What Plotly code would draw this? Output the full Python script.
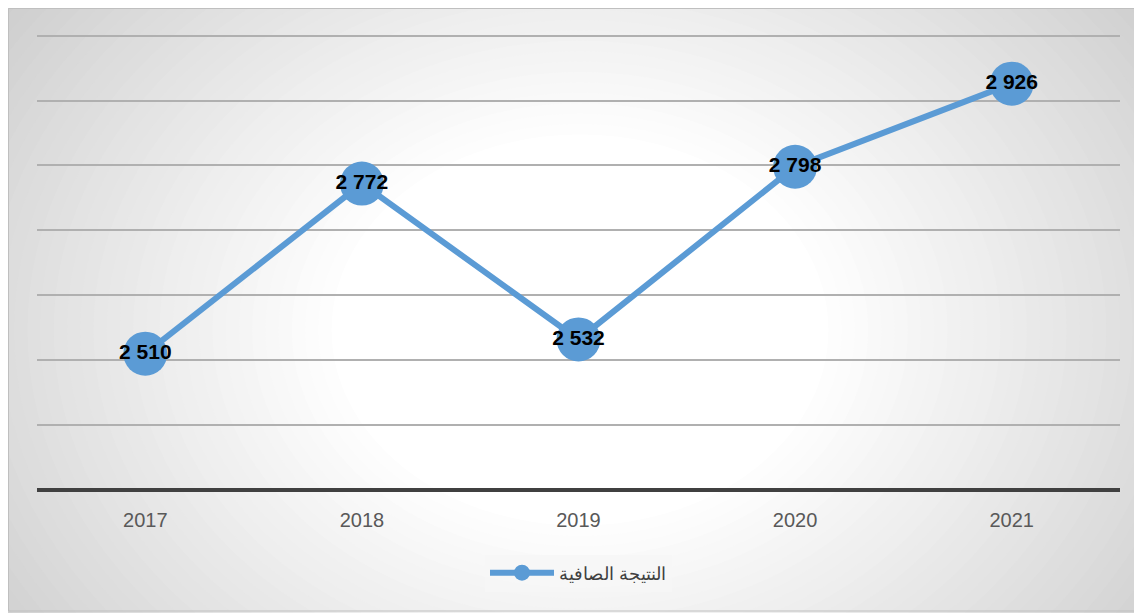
import plotly.graph_objects as go

years = ["2017", "2018", "2019", "2020", "2021"]
net_result = [2510, 2772, 2532, 2798, 2926]
value_labels = ["2 510", "2 772", "2 532", "2 798", "2 926"]
series_name = "النتيجة الصافية"
y_ticks = [2300, 2400, 2500, 2600, 2700, 2800, 2900, 3000]

# page has an 8px body margin, so the figure is shifted
OFF = 8
W, H = 1142 - OFF, 613 - OFF
plot_left, plot_right, plot_top, plot_bottom = 37, 1120, 33, 490
ml = plot_left - OFF
mt = plot_top - OFF
mr = W + OFF - plot_right
mb = H + OFF - plot_bottom
pw = W - ml - mr
ph = H - mt - mb


def radial_background():
    # concentric ellipses, grey at edges -> white in the middle
    shapes = []
    n = 40
    cx_px, cy_px = 580, 330
    x_anchor = (cx_px - plot_left) / pw
    y_anchor = 1 - (cy_px - plot_top) / ph
    r_out, r_in = 720, 230
    for i in range(n + 1):
        t = i / n
        r = r_out - (r_out - r_in) * t
        g = int(198 + (255 - 198) * t ** 0.9)
        shapes.append(dict(
            type="circle", layer="below", xref="paper", yref="paper",
            xsizemode="pixel", ysizemode="pixel",
            xanchor=x_anchor, yanchor=y_anchor,
            x0=-r * 1.08, x1=r * 1.08, y0=-r * 0.85, y1=r * 0.85,
            fillcolor=f"rgb({g},{g},{g})", line=dict(width=0),
        ))
    return shapes


fig = go.Figure()
fig.add_trace(go.Scatter(
    x=years, y=net_result, name=series_name,
    mode="lines+markers+text",
    line=dict(color="#5B9BD5", width=6),
    marker=dict(size=44, color="#5B9BD5"),
    text=value_labels, textposition="middle center",
    textfont=dict(family="Liberation Sans", size=21, color="black", weight="bold"),
))

shapes = radial_background()
# thin grey frame around the chart
shapes.append(dict(type="rect", layer="below", xref="paper", yref="paper",
                   xsizemode="pixel", ysizemode="pixel", xanchor=0, yanchor=1,
                   x0=-ml + 0.5, x1=pw + mr + 2, y0=-(ph + mb) + 2, y1=mt - 0.5,
                   fillcolor="rgba(0,0,0,0)", line=dict(color="#bfbfbf", width=1)))
# dark baseline at the bottom of the plot
shapes.append(dict(type="line", layer="above", xref="paper", yref="paper",
                   x0=0, x1=1, y0=0, y1=0, line=dict(color="#404040", width=4)))

fig.update_layout(
    width=W, height=H,
    margin=dict(l=ml, r=mr, t=mt, b=mb),
    paper_bgcolor="white",
    plot_bgcolor="rgba(0,0,0,0)",
    shapes=shapes,
    showlegend=True,
    legend=dict(
        orientation="h", x=0.5, xanchor="center",
        y=-(573 - plot_bottom) / ph, yanchor="middle",
        bgcolor="rgba(246,246,246,0.9)",
        itemwidth=64,
        font=dict(family="Liberation Sans", size=18, color="#404040"),
    ),
)
fig.update_xaxes(
    type="category", range=[-0.5, 4.5],
    showgrid=False, showline=False, zeroline=False,
    tickfont=dict(family="Liberation Sans", size=20, color="#595959"),
    ticks="", ticklabelstandoff=16,
)
fig.update_yaxes(
    range=[2300, 3004], tickvals=y_ticks, showticklabels=False,
    showgrid=True, gridcolor="#b0b0b0", gridwidth=1.5,
    zeroline=False, showline=False, ticks="",
)

fig.write_html("out.html")
